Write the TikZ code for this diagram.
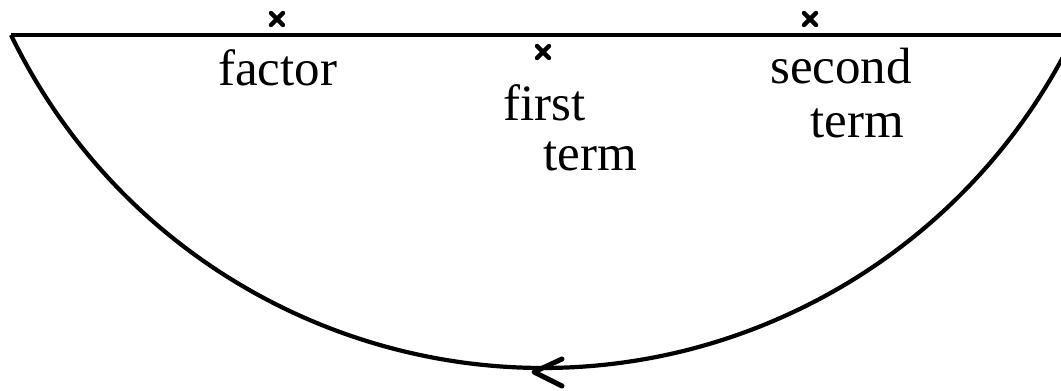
\documentclass[tikz,border=0pt]{standalone}
\usepackage{fontspec}
\setmainfont{Liberation Serif}
\begin{document}
\begin{tikzpicture}[x=1pt,y=-1pt,
  curve/.style={line width=4.2pt},
  cross/.style={line width=4.4pt,line cap=round},
  lbl/.style={anchor=base west,inner sep=0pt,font=\fontsize{51}{51}\selectfont}]
\useasboundingbox (0,0) rectangle (1061,391);
\clip (0,0) rectangle (1061,391);
% horizontal line
\coordinate (L) at (11,35);
\coordinate (R) at (1070,35);
\draw[curve] (L) -- (R);
% arc
\draw[curve,line join=round] (L) arc[start angle=154.1,end angle=20,radius=591];
% arrow head at bottom
\coordinate (tip) at (534,372);
\draw[curve,line width=5pt,line cap=round,line join=round] ([shift={(28,-13)}]tip) -- (tip) -- ([shift={(28,14)}]tip);
% crosses
\foreach \n/\cx/\cy in {c1/277/19,c2/543/52,c3/810/19}{
  \coordinate (\n) at (\cx,\cy);
  \draw[cross] ([shift={(-6,-6)}]\n) -- ([shift={(6,6)}]\n);
  \draw[cross] ([shift={(-6,6)}]\n) -- ([shift={(6,-6)}]\n);
}
% labels
\node[lbl] (factor) at (218,85) {factor};
\node[lbl] (first) at (503,120) {first};
\node[lbl] (term1) at (543,170) {term};
\node[lbl] (second) at (770,83) {second};
\node[lbl] (term2) at (810,137) {term};
\end{tikzpicture}
\end{document}
